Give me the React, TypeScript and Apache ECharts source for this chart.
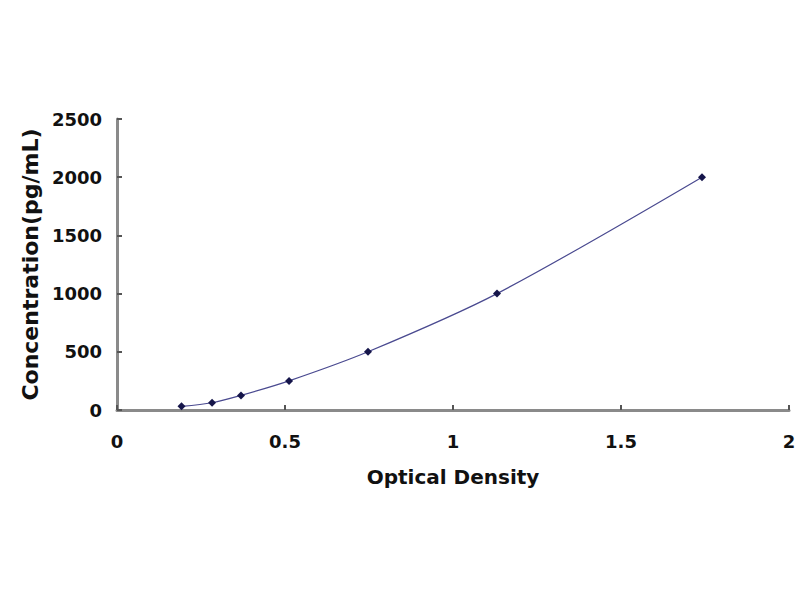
import React, { useEffect, useRef } from "react";
import * as echarts from "echarts";

const opticalDensity = [0.192, 0.283, 0.369, 0.512, 0.747, 1.131, 1.741];
const concentration = [31.25, 62.5, 125, 250, 500, 1000, 2000];

const xTicks = { min: 0, max: 2, interval: 0.5 };
const yTicks = { min: 0, max: 2500, interval: 500 };

const xName = "Optical Density";
const yName = "Concentration(pg/mL)";

export default function App() {
  const ref = useRef<HTMLDivElement>(null);
  useEffect(() => {
    document.body.style.margin = "0";
    if (!ref.current) return;
    const chart = echarts.init(ref.current, undefined, { renderer: "svg" });
    const font = "DejaVu Sans";
    const axisLine = { show: true, lineStyle: { color: "#8a8a8a", width: 3 } };
    const axisTick = { show: true, inside: true, length: 5, lineStyle: { color: "#555", width: 2 } };
    chart.setOption({
      animation: false,
      backgroundColor: "#ffffff",
      grid: { left: 117, right: 11, top: 119, bottom: 190, containLabel: false },
      xAxis: {
        type: "value",
        min: xTicks.min,
        max: xTicks.max,
        interval: xTicks.interval,
        axisLine,
        axisTick,
        splitLine: { show: false },
        axisLabel: {
          fontFamily: font,
          fontWeight: "bold",
          fontSize: 18,
          color: "#111",
          margin: 22,
          formatter: (v: number) => String(v),
        },
        name: xName,
        nameLocation: "middle",
        nameGap: 57,
        nameTextStyle: { fontFamily: font, fontWeight: "bold", fontSize: 20, color: "#111" },
      },
      yAxis: {
        type: "value",
        min: yTicks.min,
        max: yTicks.max,
        interval: yTicks.interval,
        axisLine,
        axisTick,
        splitLine: { show: false },
        axisLabel: {
          fontFamily: font,
          fontWeight: "bold",
          fontSize: 18,
          color: "#111",
          margin: 15,
          formatter: (v: number) => String(v),
        },
        name: yName,
        nameLocation: "middle",
        nameGap: 76,
        nameRotate: 90,
        nameTextStyle: { fontFamily: font, fontWeight: "bold", fontSize: 22, color: "#111" },
      },
      series: [
        {
          type: "line",
          data: opticalDensity.map((x, i) => [x, concentration[i]]),
          smooth: 0.3,
          symbol: "diamond",
          symbolSize: 8,
          lineStyle: { color: "#4a4a90", width: 1.2 },
          itemStyle: { color: "#15154a" },
        },
      ],
    });
    return () => chart.dispose();
  }, []);
  return <div ref={ref} style={{ width: 800, height: 600 }} />;
}
